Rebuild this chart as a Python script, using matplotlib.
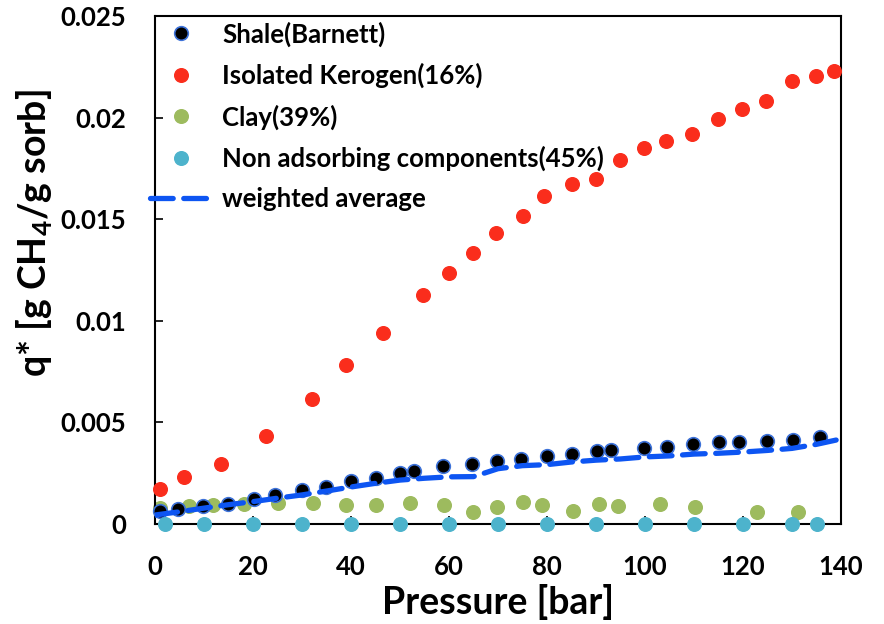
import matplotlib.pyplot as plt
from matplotlib.ticker import FuncFormatter

plt.rcParams['font.family'] = ['Lato', 'DejaVu Sans']
plt.rcParams['font.weight'] = 'bold'
plt.rcParams['mathtext.fontset'] = 'custom'
plt.rcParams['mathtext.rm'] = 'Lato:bold'
plt.rcParams['mathtext.bf'] = 'Lato:bold'

# Shale (Barnett) measured
shale_p = [1, 4.8, 9.9, 15, 20.2, 24.5, 30, 34.9, 40, 45.1, 50, 52.9, 58.8, 64.7,
           69.8, 74.7, 80, 85.1, 90.2, 93.1, 99.8, 104.5, 109.8, 115.1, 119.2,
           124.9, 130.2, 135.7]
shale_q = [0.00064, 0.00074, 0.00089, 0.00098, 0.00123, 0.00143, 0.00167, 0.00182,
           0.00212, 0.00226, 0.00251, 0.00261, 0.00285, 0.00295, 0.0031, 0.0032,
           0.00335, 0.00344, 0.00359, 0.00364, 0.00374, 0.00379, 0.00394, 0.00404,
           0.00404, 0.00408, 0.00413, 0.00428]

# Isolated kerogen (16%)
ker_p = [1, 6, 13.5, 22.7, 32, 39, 46.5, 54.7, 60, 65, 69.6, 75, 79.4, 85.1, 90,
         94.9, 99.8, 104.3, 109.6, 114.9, 119.8, 124.7, 130, 134.9, 138.6]
ker_q = [0.00172, 0.00231, 0.00295, 0.00433, 0.00615, 0.00782, 0.0094, 0.01127,
         0.01235, 0.01334, 0.01432, 0.01516, 0.01614, 0.01673, 0.01698, 0.01791,
         0.0185, 0.01885, 0.0192, 0.01993, 0.02042, 0.02081, 0.0218, 0.02205, 0.02229]

# Clay (39%)
clay_p = [1, 6.9, 11.8, 18.2, 25.1, 32.2, 39, 45.1, 52, 59, 64.9, 69.8, 75.1, 79,
          85.3, 90.6, 94.5, 103.1, 110.2, 122.9, 131.2]
clay_q = [0.00079, 0.00089, 0.00093, 0.00098, 0.00103, 0.00103, 0.00093, 0.00093,
          0.00103, 0.00093, 0.00059, 0.00084, 0.00108, 0.00093, 0.00064, 0.00098,
          0.00089, 0.00098, 0.00084, 0.00059, 0.00059]

# Non adsorbing components (45%)
nonads_p = [2, 10, 20, 30, 40, 50, 60, 70, 80, 90, 100, 110, 120, 130, 135]
nonads_q = [0] * len(nonads_p)

# weighted average
avg_p = [0, 5, 10, 15, 20, 25, 30, 35, 40, 45, 50, 55, 60, 65, 70, 75, 80, 85, 90,
         95, 100, 105, 110, 115, 120, 125, 130, 135, 139]
avg_q = [0.00044, 0.0006, 0.00078, 0.00095, 0.0011, 0.00127, 0.00143, 0.00162,
         0.00182, 0.002, 0.00216, 0.00225, 0.00232, 0.00233, 0.00272, 0.00287,
         0.00292, 0.00305, 0.00314, 0.0032, 0.0033, 0.00335, 0.00344, 0.00348,
         0.00354, 0.00362, 0.00372, 0.00392, 0.00413]

fig = plt.figure(figsize=(8.84, 6.24), dpi=100)
ax = fig.add_axes([0.1753, 0.1603, 0.7761, 0.8141])

ms = 9.8
ax.plot(shale_p, shale_q, 'o', color='black', mec='#3d72d9', mew=1.2, ms=ms,
        label='Shale(Barnett)', clip_on=False, zorder=3)
ax.plot(ker_p, ker_q, 'o', color='#fa2d1c', mec='#fa2d1c', ms=ms,
        label='Isolated Kerogen(16%)', clip_on=False, zorder=3)
ax.plot(clay_p, clay_q, 'o', color='#9dbb5e', mec='#9dbb5e', ms=ms,
        label='Clay(39%)', clip_on=False, zorder=2)
ax.plot(nonads_p, nonads_q, 'o', color='#4db3cc', mec='#4db3cc', ms=ms,
        label='Non adsorbing components(45%)', clip_on=False, zorder=4)
ax.plot(avg_p, avg_q, color='#0d55f2', lw=3.8, dashes=(4.3, 2.0),
        dash_capstyle='round', label='weighted average', zorder=3)

ax.set_xlim(0, 140)
ax.set_ylim(0, 0.025)
ax.set_xticks(range(0, 141, 20))
ax.set_yticks([0, 0.005, 0.01, 0.015, 0.02, 0.025])
ax.yaxis.set_major_formatter(FuncFormatter(lambda v, p: ('%g' % v)))

ax.tick_params(direction='in', length=6, width=1.2, labelsize=18.5)
ax.tick_params(axis='y', pad=21)
ax.tick_params(axis='x', pad=22)
for s in ax.spines.values():
    s.set_linewidth(1.5)

ax.set_xlabel('Pressure [bar]', fontsize=27, fontweight='bold')
ax.set_ylabel(r'q* [g CH$_\mathbf{4}$/g sorb]', fontsize=27, fontweight='bold')
ax.xaxis.set_label_coords(0.5, -0.118)
ax.yaxis.set_label_coords(-0.145, 0.573)

ax.legend(loc='upper left', bbox_to_anchor=(-0.022, 1.010), frameon=False,
          fontsize=18.5, handlelength=2.37, handletextpad=0.43, labelspacing=0.63,
          borderaxespad=0.0)

fig.savefig('out.png', dpi=100)
